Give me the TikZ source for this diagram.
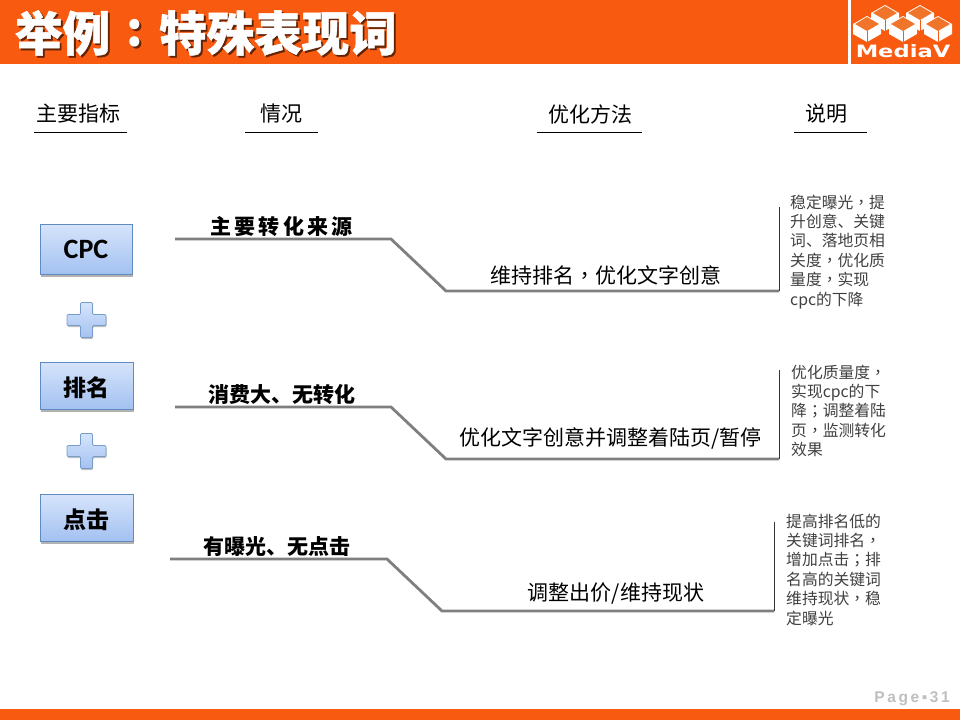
\documentclass[tikz,border=0pt]{standalone}
\usepackage{fontspec}
\setmainfont{Noto Sans CJK SC}
\newfontfamily\tcfont{Noto Sans CJK TC}
\newfontfamily\logofont{DejaVu Sans}
\newfontfamily\cpcfont{Carlito}
\newfontfamily\latinsp[LetterSpace=17]{Liberation Sans}
\newcommand{\ccm}{{\tcfont ，}}
\newcommand{\csm}{{\tcfont ；}}
\usetikzlibrary{shadows,calc}
\definecolor{barorange}{HTML}{F85A10}
\definecolor{cubetop}{HTML}{F0752A}
\definecolor{linegray}{HTML}{7F7F7F}
\definecolor{boxedge}{HTML}{5F8BC0}
\definecolor{boxtop}{HTML}{D6E4FB}
\definecolor{boxbot}{HTML}{A3C1F1}
\tikzset{
  x=1pt,y=-1pt,
  headtext/.style={font=\fontsize{21}{24}\selectfont,text=black,inner sep=0pt,anchor=center},
  headline/.style={draw=black,line width=0.7pt},
  keybox/.style={draw=boxedge,line width=0.8pt,top color=boxtop,bottom color=boxbot,minimum width=92pt,inner sep=0pt,
    drop shadow={shadow xshift=0.5pt,shadow yshift=-2.5pt,fill=black,opacity=0.3},
    font=\fontsize{23}{28}\selectfont\bfseries,text=black},
  plusshape/.style={draw=boxedge!85,line width=0.7pt,top color=boxtop,bottom color=boxbot,rounded corners=1.2pt,
    drop shadow={shadow xshift=0.5pt,shadow yshift=-1.5pt,fill=black,opacity=0.25}},
  conn/.style={draw=linegray,line width=2.8pt,line join=miter},
  bracket/.style={draw=black!80,line width=0.8pt},
  situ/.style={font=\fontsize{21}{24}\selectfont\bfseries,text=black,inner sep=0pt},
  method/.style={font=\fontsize{21}{24}\selectfont,text=black,inner sep=0pt},
  note/.style={font=\fontsize{15.8}{19.4}\selectfont,text=black!75,inner sep=0pt,anchor=north west,align=left},
  titletext/.style={inner sep=0pt,anchor=west,text=white,font=\fontsize{47.5}{50}\selectfont\bfseries},
  titleshade/.style={titletext,text=black!60!barorange},
}
\newcommand{\plusat}[2]{%
  \path[plusshape] (#1-6,#2-17.5)--(#1+6,#2-17.5)--(#1+6,#2-5.5)--(#1+19.5,#2-5.5)--(#1+19.5,#2+5.5)--(#1+6,#2+5.5)--(#1+6,#2+17.5)--(#1-6,#2+17.5)--(#1-6,#2+5.5)--(#1-19.5,#2+5.5)--(#1-19.5,#2-5.5)--(#1-6,#2-5.5)--cycle;}
\newcommand{\cube}[2]{%
  \fill[white] (#1-14,#2-4)--(#1,#2-12)--(#1+14,#2-4)--(#1+14,#2+6)--(#1,#2+14)--(#1-14,#2+6)--cycle;
  \fill[cubetop] (#1-12,#2-4)--(#1,#2-11)--(#1+12,#2-4)--(#1,#2+3)--cycle;
  \draw[barorange,line width=0.5pt] (#1,#2+3)--(#1,#2+14);}
\begin{document}
\begin{tikzpicture}
\useasboundingbox (0,0) rectangle (960,720);
\fill[white] (0,0) rectangle (960,720);
\fill[barorange] (0,0) rectangle (960,64);
\fill[white] (848,0) rectangle (851,64);
\fill[barorange] (0,709) rectangle (960,720);
% logo
\cube{885}{17}\cube{920}{17}\cube{867}{28}\cube{903}{28}\cube{938}{28}
\node[inner sep=0pt,text=white] (logotext) at (903,51) {\scalebox{1.33}[1]{\logofont\bfseries\fontsize{17}{18}\selectfont MediaV}};
% title
\node[titleshade] (ts1) at (16.8,34.8) {\addfontfeature{FakeBold=1}举例};
\node[titleshade,anchor=center] (ts2) at (136.8,34.8) {:};
\node[titleshade] (ts3) at (160.8,34.8) {\addfontfeature{FakeBold=1}特殊表现词};
\node[titletext] (t1) at (15,33) {\addfontfeature{FakeBold=1}举例};
\node[titletext,anchor=center] (t2) at (135,33) {:};
\node[titletext] (t3) at (159,33) {\addfontfeature{FakeBold=1}特殊表现词};
% headers
\node[headtext] (h1) at (78,114) {主要指标};
\node[headtext] (h2) at (281,114) {情况};
\node[headtext] (h3) at (590,114) {优化方法};
\node[headtext] (h4) at (826,114) {说明};
\coordinate (h1a) at (34,132); \coordinate (h1b) at (127,132);
\coordinate (h2a) at (245,132); \coordinate (h2b) at (318,132);
\coordinate (h3a) at (537,132); \coordinate (h3b) at (642,132);
\coordinate (h4a) at (794,132); \coordinate (h4b) at (867,132);
\draw[headline] (h1a)--(h1b);
\draw[headline] (h2a)--(h2b);
\draw[headline] (h3a)--(h3b);
\draw[headline] (h4a)--(h4b);
% key boxes
\node[keybox,minimum height=50pt] (k1) at (86,249) {\cpcfont\bfseries\fontsize{28}{30}\selectfont CPC};
\node[keybox,minimum height=47pt,minimum width=93pt] (k2) at (86.5,385.5) {\raisebox{-2.5pt}[\height][\depth]{排名}};
\node[keybox,minimum height=47pt,minimum width=93pt] (k3) at (86.5,517.5) {\raisebox{-2.5pt}[\height][\depth]{点击}};
\plusat{86.5}{320}
\plusat{86.5}{451}
% row 1
\coordinate (a1) at (175,239); \coordinate (a2) at (391,239); \coordinate (a3) at (446,291); \coordinate (a4) at (779,291); \coordinate (a5) at (779,207);
\draw[conn] (a1)--(a2)--(a3)--(a4);
\draw[bracket] (a4)--(a5);
\node[situ] (s1) at (281.5,227) {\addfontfeature{LetterSpace=15}主要转化来源};
\node[method] (m1) at (605.5,275) {维持排名\ccm 优化文字创意};
\node[note] (n1) at (790,194.5) {稳定曝光\ccm 提\\升创意、关键\\词、落地页相\\关度\ccm 优化质\\量度\ccm 实现\\cpc的下降};
% row 2
\coordinate (b1) at (175,407); \coordinate (b2) at (391,407); \coordinate (b3) at (446,459); \coordinate (b4) at (779,459); \coordinate (b5) at (779,370);
\draw[conn] (b1)--(b2)--(b3)--(b4);
\draw[bracket] (b4)--(b5);
\node[situ] (s2) at (281.5,395) {消费大、无转化};
\node[method] (m2) at (610.5,438) {优化文字创意并调整着陆页/暂停};
\node[note] (n2) at (791,364.5) {优化质量度\ccm\\实现cpc的下\\降\csm 调整着陆\\页\ccm 监测转化\\效果};
% row 3
\coordinate (c1) at (170,559); \coordinate (c2) at (387,559); \coordinate (c3) at (442,611); \coordinate (c4) at (774,611); \coordinate (c5) at (774,522);
\draw[conn] (c1)--(c2)--(c3)--(c4);
\draw[bracket] (c4)--(c5);
\node[situ] (s3) at (276.5,547) {有曝光、无点击};
\node[method] (m3) at (616,594) {调整出价/维持现状};
\node[note] (n3) at (786,513.5) {提高排名低的\\关键词排名\ccm\\增加点击\csm 排\\名高的关键词\\维持现状\ccm 稳\\定曝光};
% page
\node[inner sep=0pt,anchor=east,text=black!25] (page) at (950,699) {\latinsp\bfseries\fontsize{15.5}{16}\selectfont Page\,▪\,31};
\end{tikzpicture}
\end{document}
